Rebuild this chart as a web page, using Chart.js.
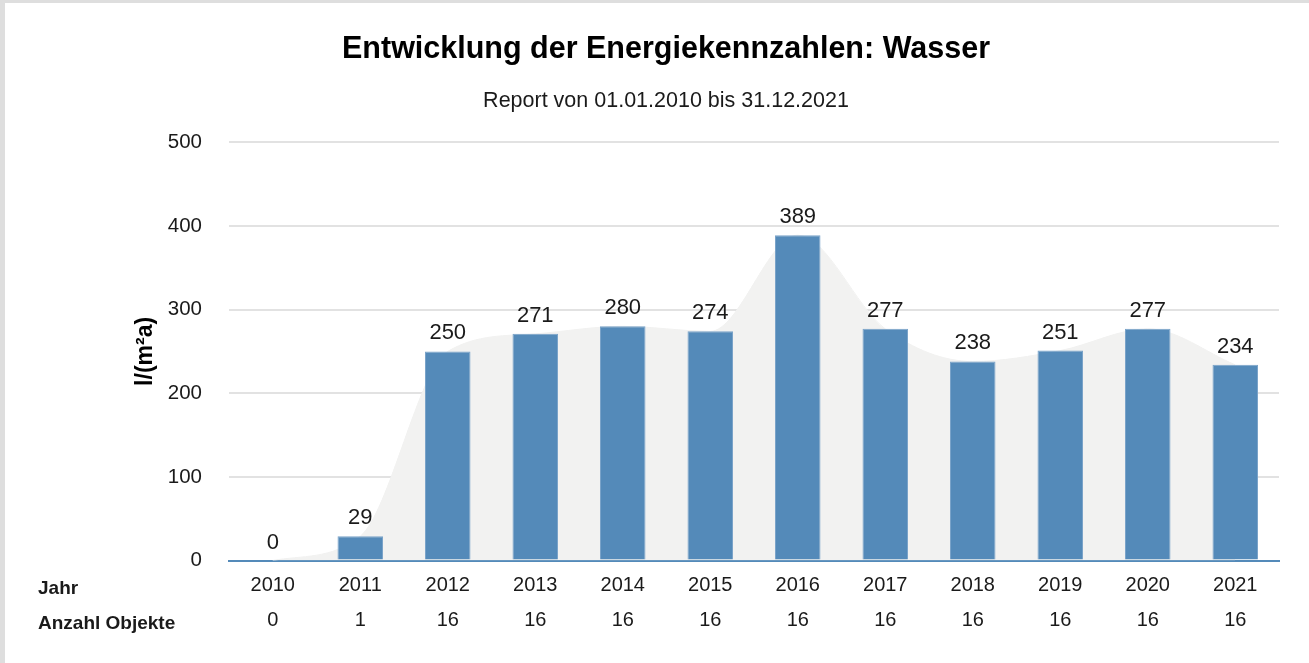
<!DOCTYPE html>
<html>
<head>
<meta charset="utf-8">
<title>Entwicklung der Energiekennzahlen: Wasser</title>
<script src="https://cdn.jsdelivr.net/npm/chart.js@4/dist/chart.umd.min.js"></script>
<style>
    html, body { margin: 0; padding: 0; background: #fff; overflow: hidden; }
    #box {
        width: 1304px;
        height: 660px;
        border-top: 3px solid #dedede;
        border-left: 5px solid #dedede;
    }
</style>
</head>
<body>
<div id="box">
    <canvas id="myChart" width="1304" height="660"></canvas>
</div>
<script>
// DATA
var jahre = ['2010', '2011', '2012', '2013', '2014', '2015', '2016', '2017', '2018', '2019', '2020', '2021'];
var werte = [0, 29, 250, 271, 280, 274, 389, 277, 238, 251, 277, 234];
var anzahlObjekte = [0, 1, 16, 16, 16, 16, 16, 16, 16, 16, 16, 16];
var yTicks = [0, 100, 200, 300, 400, 500];

var barColor = "rgb(84, 138, 185)";
var areaColor = "rgb(242, 242, 241)";
var textColor = "#1a1a1a";
var fontName = "'Liberation Sans', Arial, Helvetica, sans-serif";

Chart.defaults.font.family = fontName;
Chart.defaults.color = textColor;

// labels: year + number of objects in two lines
var xLabels = jahre.map(function (j, i) {
    return [j, String(anzahlObjekte[i])];
});

// VALUES ABOVE BARS
const barValues = {
    id: 'barValues',
    afterDatasetsDraw(chart) {
        var ctx = chart.ctx;
        var meta = chart.getDatasetMeta(0);
        ctx.save();
        ctx.font = "22px " + fontName;
        ctx.fillStyle = textColor;
        ctx.textAlign = 'center';
        ctx.textBaseline = 'middle';
        meta.data.forEach(function (bar, i) {
            ctx.fillText(String(werte[i]), bar.x, bar.y - 18);
        });
        ctx.restore();
    }
};

// ROW TITLES ON THE LEFT
const rowTitles = {
    id: 'rowTitles',
    afterDraw(chart) {
        var ctx = chart.ctx;
        var xs = chart.scales.x;
        var y0 = xs.top + 7.5 + 17.5 + 3;
        ctx.save();
        ctx.font = "bold 19px " + fontName;
        ctx.fillStyle = textColor;
        ctx.textAlign = 'left';
        ctx.textBaseline = 'middle';
        ctx.fillText('Jahr', 33, y0);
        ctx.fillText('Anzahl Objekte', 33, y0 + 35);
        ctx.restore();
    }
};

const mainChart = new Chart("myChart", {
    type: "bar",
    data: {
        labels: xLabels,
        datasets: [{
            type: 'bar',
            data: werte,
            backgroundColor: barColor,
            borderColor: "rgb(122, 163, 201)",
            borderWidth: 1,
            barPercentage: 0.52,
            categoryPercentage: 1,
            order: 0
        }, {
            type: 'line',
            data: werte,
            backgroundColor: areaColor,
            borderColor: areaColor,
            borderWidth: 1,
            fill: 'origin',
            pointRadius: 0,
            cubicInterpolationMode: 'monotone',
            order: 1
        }]
    },
    options: {
        responsive: false,
        animation: false,
        layout: {
            padding: { left: 48, right: 30, top: 0, bottom: 17.5 }
        },
        plugins: {
            legend: { display: false },
            tooltip: { enabled: false },
            title: {
                display: true,
                text: "Entwicklung der Energiekennzahlen: Wasser",
                color: "#000",
                font: { size: 30.5, weight: 'bold', lineHeight: 1.2 },
                padding: { top: 28.7, bottom: 20.1 }
            },
            subtitle: {
                display: true,
                text: "Report von 01.01.2010 bis 31.12.2021",
                color: textColor,
                font: { size: 21.5, lineHeight: 1.2 },
                padding: { top: 0, bottom: 28.1 }
            }
        },
        scales: {
            x: {
                grid: { display: false, drawTicks: false },
                border: { display: true, color: barColor, width: 2 },
                ticks: {
                    color: textColor,
                    font: { size: 20, lineHeight: '35px' },
                    padding: 7.5,
                    maxRotation: 0,
                    autoSkip: false
                }
            },
            y: {
                min: yTicks[0],
                max: yTicks[yTicks.length - 1],
                afterFit: function (scale) { scale.width = 176; },
                afterBuildTicks: function (scale) {
                    scale.ticks = yTicks.map(function (v) { return { value: v }; });
                },
                grid: { color: "#e2e2e2", lineWidth: 2, drawTicks: false },
                border: { display: false },
                ticks: {
                    color: textColor,
                    font: { size: 20.5 },
                    padding: 27
                },
                title: {
                    display: true,
                    text: "l/(m²a)",
                    color: "#000",
                    font: { size: 23, weight: 'bold', lineHeight: 1.2 },
                    padding: { top: 78.8, bottom: 0 }
                }
            }
        }
    },
    plugins: [barValues, rowTitles]
});
</script>
</body>
</html>
